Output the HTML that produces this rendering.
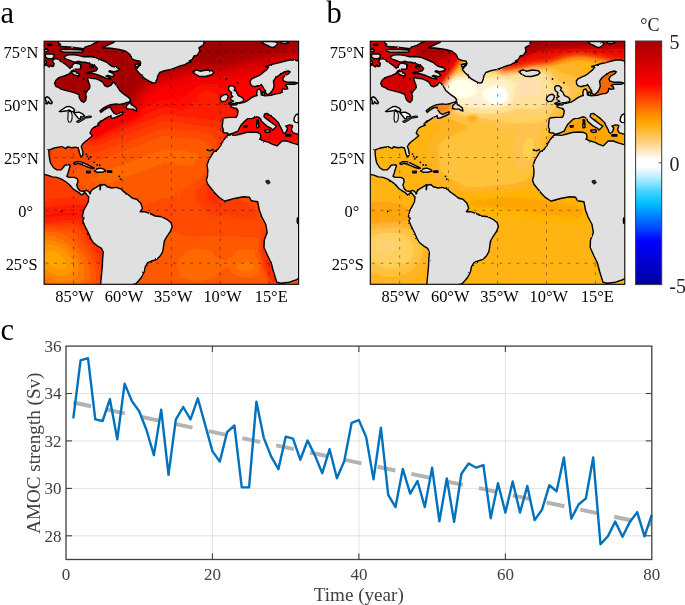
<!DOCTYPE html>
<html><head><meta charset="utf-8"><title>Figure</title>
<style>
html,body{margin:0;padding:0;background:#fff;}
svg{display:block;font-family:"Liberation Serif",serif;}
.mt text{font-size:16.4px;fill:#000;}
.pl text{font-size:30.5px;fill:#000;}
.cb text{font-size:20px;fill:#222;}
.ct text{font-size:17px;fill:#404040;}
.cl text{font-size:19.1px;fill:#404040;}
</style></head><body>
<svg width="685" height="605" viewBox="0 0 685 605">
<defs>
<clipPath id="clipM"><rect x="44.1" y="41.2" width="254.5" height="243.1"/></clipPath>
<filter id="jag" x="-2%" y="-2%" width="104%" height="104%"><feTurbulence type="fractalNoise" baseFrequency="0.45" numOctaves="2" seed="7" result="n"/><feDisplacementMap in="SourceGraphic" in2="n" scale="1.8" xChannelSelector="R" yChannelSelector="G"/></filter>
<filter id="post" x="0" y="0" width="100%" height="100%" color-interpolation-filters="sRGB"><feComponentTransfer><feFuncR type="discrete" tableValues="0.0000 0.0345 0.0690 0.1034 0.1379 0.1724 0.2069 0.2414 0.2759 0.3103 0.3448 0.3793 0.4138 0.4483 0.4828 0.5172 0.5517 0.5862 0.6207 0.6552 0.6897 0.7241 0.7586 0.7931 0.8276 0.8621 0.8966 0.9310 0.9655 1.0000"/><feFuncG type="discrete" tableValues="0.0000 0.0588 0.1176 0.1765 0.2353 0.2941 0.3529 0.4118 0.4706 0.5294 0.5882 0.6471 0.7059 0.7647 0.8235 0.8824 0.9412 1.0000"/><feFuncB type="discrete" tableValues="0.0000 0.0769 0.1538 0.2308 0.3077 0.3846 0.4615 0.5385 0.6154 0.6923 0.7692 0.8462 0.9231 1.0000"/></feComponentTransfer></filter>
<filter id="bl1" x="-50%" y="-50%" width="200%" height="200%"><feGaussianBlur stdDeviation="0.8"/></filter>
<filter id="bl2" x="-50%" y="-50%" width="200%" height="200%"><feGaussianBlur stdDeviation="1.8"/></filter>
<filter id="bl3" x="-50%" y="-50%" width="200%" height="200%"><feGaussianBlur stdDeviation="2.4"/></filter>
<filter id="bl4" x="-50%" y="-50%" width="200%" height="200%"><feGaussianBlur stdDeviation="3"/></filter>
<filter id="bl6" x="-50%" y="-50%" width="200%" height="200%"><feGaussianBlur stdDeviation="6"/></filter>
<filter id="bl8" x="-50%" y="-50%" width="200%" height="200%"><feGaussianBlur stdDeviation="8"/></filter>
<linearGradient id="gA" gradientUnits="userSpaceOnUse" x1="164.4" y1="45.82" x2="220.44" y2="198.52"><stop offset="0.000" stop-color="#dc0000"/><stop offset="0.129" stop-color="#e40000"/><stop offset="0.200" stop-color="#ec0000"/><stop offset="0.241" stop-color="#f20000"/><stop offset="0.318" stop-color="#ff1000"/><stop offset="0.394" stop-color="#ff2a00"/><stop offset="0.453" stop-color="#ff4000"/><stop offset="0.506" stop-color="#ff5000"/><stop offset="0.559" stop-color="#ff6000"/><stop offset="0.624" stop-color="#ff6600"/><stop offset="0.706" stop-color="#ff6200"/><stop offset="0.794" stop-color="#ff5c00"/><stop offset="0.882" stop-color="#ff5400"/><stop offset="1.000" stop-color="#ff4a00"/></linearGradient>
<linearGradient id="gA2" gradientUnits="userSpaceOnUse" x1="164.40" y1="45.82" x2="146.92" y2="217.33"><stop offset="0.000" stop-color="#dc0000"/><stop offset="0.129" stop-color="#e40000"/><stop offset="0.200" stop-color="#ec0000"/><stop offset="0.241" stop-color="#f20000"/><stop offset="0.318" stop-color="#ff1000"/><stop offset="0.394" stop-color="#ff2a00"/><stop offset="0.453" stop-color="#ff4000"/><stop offset="0.506" stop-color="#ff5000"/><stop offset="0.559" stop-color="#ff6000"/><stop offset="0.624" stop-color="#ff6600"/><stop offset="0.706" stop-color="#ff6200"/><stop offset="0.794" stop-color="#ff5c00"/><stop offset="0.882" stop-color="#ff5400"/><stop offset="1.000" stop-color="#ff4a00"/></linearGradient>
<linearGradient id="gC" x1="0" y1="0" x2="0" y2="1">
<stop offset="0" stop-color="#a50000"/><stop offset="0.177" stop-color="#ff0000"/><stop offset="0.233" stop-color="#ff4000"/>
<stop offset="0.291" stop-color="#ff8000"/><stop offset="0.335" stop-color="#ffa800"/><stop offset="0.42" stop-color="#ffd488"/>
<stop offset="0.488" stop-color="#ffffff"/><stop offset="0.515" stop-color="#ffffff"/><stop offset="0.556" stop-color="#c0f0ff"/>
<stop offset="0.622" stop-color="#40d0ff"/><stop offset="0.666" stop-color="#00c0ff"/><stop offset="0.72" stop-color="#0080ff"/>
<stop offset="0.748" stop-color="#0060ff"/><stop offset="0.823" stop-color="#0000ff"/><stop offset="1" stop-color="#0000a0"/>
</linearGradient>
</defs>
<rect width="685" height="605" fill="#fff"/>
<g transform="translate(0,0)"><g clip-path="url(#clipM)"><g filter="url(#post)">
<rect x="40" y="38" width="125" height="250" fill="url(#gA)"/><rect x="164.4" y="38" width="138" height="250" fill="url(#gA2)"/>
<g filter="url(#bl6)">
 <polygon points="40,38 198,38 192,66 181,72 165,76 151,84 139,91 135,100 138,108 130,112 100,116 40,116" fill="#a20000"/>
 <polygon points="170,30 306,30 306,51 290,54 272,57 264,58.5 255,60 245,62 235,64.5 225,67 215,69.5 200,68 182,70 170,74" fill="#a00000"/>
 <ellipse cx="117" cy="107" rx="12" ry="7" fill="#b40000"/>
</g>
<g filter="url(#bl4)">
 <polygon points="88,134 100,124 112,117 126,111 138,108 140,116 128,121 116,127 104,133 94,140" fill="#ee0000"/>
</g>
<g filter="url(#bl8)">
 <ellipse cx="66" cy="152" rx="22" ry="14" fill="#ff5400"/>
 <ellipse cx="208" cy="100" rx="20" ry="14" fill="#ff2600"/>
 <ellipse cx="160" cy="250" rx="22" ry="30" fill="#ff5a00"/>
 <ellipse cx="226" cy="203" rx="42" ry="11" fill="#ff3c00" transform="rotate(18 226 203)"/>
 <polygon points="120,236 300,236 300,292 120,292" fill="#ff5c00"/>
 <ellipse cx="198" cy="266" rx="26" ry="22" fill="#ff6800"/>
 <ellipse cx="246" cy="262" rx="20" ry="18" fill="#ff6800"/>
 <polygon points="36,168 60,170 84,186 98,204 100,212 36,212" fill="#ff4200"/>
 <ellipse cx="56" cy="262" rx="40" ry="26" fill="#ff7c00" transform="rotate(35 56 262)"/>
 <polygon points="222,84 302,84 302,146 240,146 226,132 232,112" fill="#ff0600"/>
 <polygon points="236,100 226,118 218,150 210,170 204,200 214,215 222,200 228,170 232,140 240,120" fill="#ff2a00"/>
</g>
<g filter="url(#bl6)">
 <ellipse cx="56" cy="208" rx="46" ry="8" fill="#ff2c00" transform="rotate(-6 56 208)"/>
 <ellipse cx="56" cy="216" rx="46" ry="8" fill="#ff1600" transform="rotate(-6 56 216)"/>
 <polygon points="82,208 98,232 112,254 116,284 108,284 102,258 88,236 76,216" fill="#ff1c00"/>
 <ellipse cx="55" cy="260" rx="22" ry="14" fill="#ffa000" transform="rotate(35 55 260)"/>
</g>
<g filter="url(#bl3)">
 <ellipse cx="246" cy="267" rx="12" ry="7" fill="#ff7400"/>
 <polygon points="262,228 268,240 266,252 272,266 280,284 272,284 264,268 260,252 262,240" fill="#ff2a00"/>
</g>
</g><g stroke="#000" stroke-opacity="0.8" stroke-width="0.5" stroke-dasharray="2.9 5.6" stroke-dashoffset="-1.6"><line x1="73.5" x2="73.5" y1="41.2" y2="284.3"/><line x1="122.4" x2="122.4" y1="41.2" y2="284.3"/><line x1="171.4" x2="171.4" y1="41.2" y2="284.3"/><line x1="220.3" x2="220.3" y1="41.2" y2="284.3"/><line x1="269.2" x2="269.2" y1="41.2" y2="284.3"/><line y1="51.8" y2="51.8" x1="44.1" x2="298.6"/><line y1="104.6" y2="104.6" x1="44.1" x2="298.6"/><line y1="157.5" y2="157.5" x1="44.1" x2="298.6"/><line y1="210.3" y2="210.3" x1="44.1" x2="298.6"/><line y1="263.2" y2="263.2" x1="44.1" x2="298.6"/></g><path d="M44.0,66.0 L46.1,64.8 L47.7,66.0 L49.2,67.0 L50.7,65.3 L52.0,66.5 L53.7,66.0 L54.1,63.5 L52.5,61.5 L53.3,59.4 L56.5,58.6 L59.8,59.8 L60.0,60.8 L63.8,63.2 L67.6,66.0 L70.2,68.4 L71.9,66.5 L73.3,64.1 L75.2,63.0 L79.0,63.7 L81.3,65.1 L80.4,67.0 L81.1,68.4 L79.0,69.3 L75.2,69.1 L72.8,70.3 L71.4,71.2 L69.5,73.6 L65.7,75.3 L58.9,77.6 L55.9,80.2 L54.5,83.2 L55.8,86.3 L58.9,87.7 L61.6,89.4 L66.3,90.6 L71.3,91.9 L75.6,93.1 L78.7,94.6 L79.5,98.1 L81.2,100.8 L83.7,102.5 L85.7,100.6 L86.3,96.8 L85.6,93.7 L87.4,90.6 L89.4,88.8 L90.0,85.7 L88.8,82.6 L87.7,79.5 L88.2,77.4 L91.3,78.4 L96.1,78.8 L99.8,80.3 L102.7,82.2 L104.6,85.5 L107.4,86.9 L111.2,85.0 L113.1,82.2 L114.6,83.1 L116.9,86.0 L119.8,90.7 L124.8,94.9 L128.5,97.3 L130.5,99.8 L129.5,101.9 L127.3,102.4 L124.2,103.4 L119.9,104.4 L116.1,103.9 L110.5,104.7 L107.4,105.9 L103.7,107.9 L100.0,110.9 L101.0,112.4 L104.3,109.8 L107.4,107.9 L110.7,107.3 L111.4,109.6 L113.9,113.1 L116.4,114.3 L120.5,112.6 L123.1,112.0 L122.6,114.1 L118.6,116.0 L113.9,118.1 L111.4,118.3 L110.9,115.5 L106.5,117.8 L102.7,120.3 L100.5,122.2 L101.0,120.7 L97.7,124.0 L99.3,125.2 L95.0,126.7 L92.3,128.5 L90.8,131.0 L90.0,133.3 L92.5,135.8 L88.3,139.2 L85.0,141.7 L82.5,144.2 L81.2,146.8 L82.3,149.4 L82.9,152.3 L82.7,155.6 L81.1,156.7 L79.7,153.7 L78.9,150.0 L78.0,148.2 L75.7,147.2 L71.7,147.7 L67.5,146.7 L65.8,148.5 L62.5,146.8 L58.3,147.2 L54.3,148.0 L50.7,149.3 L48.7,150.0 L49.3,157.0 L50.4,162.8 L53.3,167.5 L56.8,169.9 L60.9,169.9 L63.3,167.5 L65.0,165.2 L69.1,164.6 L70.3,165.8 L69.1,169.3 L67.9,173.4 L66.8,176.3 L69.1,177.4 L74.4,177.4 L77.3,178.6 L77.9,181.5 L76.7,185.0 L77.9,188.5 L80.2,190.9 L83.7,191.5 L86.6,190.3 L89.0,192.0 L90.1,193.8 L90.7,191.5 L93.1,189.1 L96.0,187.4 L98.9,185.6 L100.3,184.6 L100.1,189.7 L100.8,185.0 L102.4,185.0 L104.7,184.5 L107.1,186.8 L111.7,188.0 L116.4,187.4 L121.1,189.1 L124.0,192.0 L127.5,194.3 L132.5,198.3 L136.7,199.2 L140.8,203.3 L142.5,208.3 L140.2,211.7 L144.3,211.7 L150.0,213.5 L155.2,216.0 L161.8,216.8 L166.8,219.3 L171.0,222.7 L172.2,226.7 L170.2,231.7 L166.8,236.7 L164.3,241.0 L163.5,246.7 L162.7,251.7 L160.2,256.0 L156.8,259.3 L151.8,261.0 L147.7,262.7 L145.2,266.8 L144.3,271.7 L141.8,276.7 L138.5,281.0 L135.2,284.3 L133.5,284.3 L133.5,288.3 L100.5,288.3 L100.5,284.3 L100.7,283.3 L101.5,275.0 L102.3,266.7 L102.7,258.3 L103.2,252.5 L101.5,248.3 L97.3,245.8 L93.2,242.5 L90.7,238.3 L88.2,232.5 L84.8,225.8 L82.7,220.8 L84.0,218.3 L82.2,216.7 L82.8,214.2 L83.8,210.0 L85.8,206.7 L88.3,201.7 L88.8,196.7 L88.4,196.7 L86.6,194.4 L84.9,192.6 L83.1,193.8 L81.4,195.0 L79.0,192.6 L76.1,190.9 L72.6,188.5 L69.7,185.0 L66.2,182.1 L61.5,179.2 L56.8,177.4 L52.2,176.9 L47.5,175.1 L44.0,174.5 L44.1,174.5 L40.1,174.5 L40.1,66.0Z M114.2,41.2 L114.0,42.3 L105.8,46.0 L102.5,47.7 L110.8,48.2 L119.2,49.5 L125.8,51.2 L130.0,54.5 L131.7,58.5 L135.0,60.3 L140.0,61.2 L140.8,63.5 L135.0,64.5 L136.7,68.7 L140.3,64.5 L136.7,66.9 L136.1,69.4 L138.6,72.5 L141.7,75.6 L144.8,78.7 L149.1,81.2 L153.5,83.1 L155.8,82.5 L157.1,78.7 L157.8,75.6 L159.7,72.5 L164.6,70.7 L170.8,69.4 L175.8,67.6 L180.8,65.7 L185.0,64.7 L186.3,63.5 L191.3,61.8 L189.0,61.0 L192.3,59.3 L194.0,56.0 L197.3,55.2 L199.8,51.0 L199.0,47.7 L203.2,45.2 L204.3,41.8 L204.3,41.2 L204.3,37.2 L114.2,37.2Z M64.3,57.5 L64.3,56.5 L67.6,55.1 L72.3,54.6 L79.0,55.6 L83.7,56.8 L89.8,56.5 L95.7,57.6 L101.5,60.0 L107.4,62.7 L109.3,64.5 L111.7,66.2 L116.9,67.5 L119.6,69.3 L116.5,71.3 L113.1,71.7 L109.7,70.6 L109.0,71.7 L112.9,73.4 L114.5,75.5 L112.4,76.7 L107.6,75.3 L106.1,76.1 L109.7,77.6 L110.7,79.1 L106.5,78.4 L101.7,76.5 L98.0,75.0 L92.3,73.1 L87.5,73.8 L86.6,72.7 L91.3,71.7 L96.1,70.8 L97.5,68.4 L95.1,66.0 L92.3,64.6 L88.5,63.2 L84.7,62.2 L81.8,62.2 L78.0,61.3 L75.2,62.2 L72.3,61.3 L68.5,59.9 L65.7,58.9Z M71.4,71.7 L75.2,71.2 L78.5,73.6 L79.4,75.7 L76.1,75.5 L73.3,74.6 L71.9,73.1Z M89.4,66.2 L93.0,66.0 L93.4,67.7 L89.8,67.9Z M60.3,49.7 L64.8,49.3 L71.5,49.5 L78.9,49.7 L83.3,50.3 L82.4,52.0 L75.6,52.3 L69.0,52.1 L63.1,52.0 L60.5,51.3Z M58.5,41.2 L58.3,42.8 L60.6,44.3 L59.0,45.3 L61.1,46.5 L69.0,47.0 L75.6,47.7 L83.9,48.7 L85.6,46.8 L90.6,45.3 L93.9,43.5 L97.2,42.0 L99.0,41.2 L99.0,37.2 L58.5,37.2Z M45.3,54.1 L49.0,53.8 L53.8,54.3 L54.1,56.8 L52.3,58.8 L48.2,58.6 L45.5,57.5Z M44.1,49.5 L46.5,49.0 L48.2,49.8 L47.8,51.3 L45.3,51.5 L44.1,51.8Z M47.5,44.0 L51.3,43.8 L51.7,45.2 L47.8,45.3Z M44.1,61.5 L46.0,60.8 L46.5,62.8 L44.8,64.3 L44.1,64.5Z M192.7,71.5 L196.5,69.8 L200.0,71.2 L206.5,70.0 L212.3,70.7 L213.8,72.7 L211.8,74.8 L205.3,76.5 L199.0,76.2 L195.3,74.2Z M126.7,105.4 L129.3,102.9 L130.5,101.7 L131.1,104.7 L133.6,106.0 L136.1,107.9 L136.7,111.0 L134.9,110.4 L133.0,109.1 L129.3,109.1 L126.2,108.5Z M261.8,42.0 L264.9,41.5 L271.9,41.5 L276.4,42.0 L277.7,44.1 L275.5,46.0 L272.9,47.7 L270.2,46.8 L267.6,45.5 L264.5,44.2 L262.4,42.9Z M279.8,41.5 L286.8,41.5 L288.5,42.9 L285.0,43.8 L281.5,43.3Z M220.6,97.2 L223.2,94.9 L226.3,94.2 L228.2,96.1 L227.5,99.2 L225.7,101.1 L221.9,101.7 L220.2,99.8Z M228.6,87.3 L229.9,85.8 L232.7,85.8 L235.3,88.0 L234.1,90.3 L236.1,91.3 L237.3,93.7 L238.3,95.7 L241.6,97.1 L243.8,99.2 L243.0,101.7 L239.8,102.4 L235.5,102.9 L232.4,103.7 L229.6,104.4 L228.6,103.4 L232.1,101.9 L233.6,101.2 L231.1,100.2 L230.4,97.7 L232.9,96.7 L231.1,95.0 L231.6,92.5 L229.9,91.3 L228.6,89.3Z M298.6,61.2 L295.5,60.3 L292.0,59.9 L288.5,60.3 L284.2,61.3 L279.8,62.6 L275.5,63.5 L272.0,64.4 L268.5,65.7 L265.4,66.5 L268.5,67.4 L266.7,69.6 L264.1,71.8 L261.5,74.0 L258.8,75.7 L255.3,77.1 L251.8,78.8 L250.1,81.0 L250.5,84.1 L251.8,85.8 L254.5,86.7 L258.0,85.8 L260.6,85.4 L261.2,84.3 L262.9,86.8 L264.1,89.3 L265.4,90.6 L265.6,93.0 L267.9,94.9 L270.3,93.0 L272.8,89.9 L274.1,86.2 L273.4,81.2 L275.9,77.5 L279.6,74.8 L283.4,72.3 L288.3,71.0 L290.2,71.9 L288.3,74.0 L284.6,76.0 L282.7,78.7 L283.6,81.0 L287.1,82.2 L294.5,82.2 L298.0,83.1 L294.5,84.3 L287.7,84.4 L284.9,85.3 L287.1,86.8 L287.7,88.9 L284.6,89.4 L282.5,88.4 L282.1,91.4 L279.9,93.4 L275.9,93.9 L271.6,95.2 L267.9,95.5 L264.8,95.7 L261.3,94.9 L260.8,91.1 L259.5,88.9 L257.3,89.9 L256.7,93.0 L257.1,95.5 L254.8,96.1 L251.7,97.7 L248.6,99.8 L244.9,102.1 L241.8,102.9 L239.3,103.5 L237.8,102.7 L236.8,104.8 L231.3,105.0 L230.6,106.7 L233.7,107.9 L236.8,108.5 L238.1,111.0 L237.5,114.7 L236.2,117.2 L229.9,117.4 L224.9,117.7 L223.1,118.6 L222.7,122.4 L222.2,126.7 L223.4,129.8 L222.7,131.7 L224.3,132.8 L227.4,133.0 L228.9,134.5 L233.6,133.0 L238.0,131.1 L239.8,127.3 L241.7,124.2 L245.4,120.5 L247.9,118.6 L252.2,118.4 L256.6,116.8 L259.0,117.4 L260.7,118.9 L261.2,120.9 L264.0,123.6 L267.1,126.1 L270.8,128.0 L272.8,130.1 L274.6,128.3 L276.7,126.1 L273.3,124.0 L269.6,121.1 L265.9,118.4 L263.9,116.4 L264.6,113.9 L267.1,113.4 L270.2,115.5 L274.6,118.9 L278.3,122.4 L279.5,125.1 L282.0,129.8 L283.0,132.5 L284.5,133.5 L286.3,131.7 L287.6,128.0 L285.7,126.1 L289.4,124.9 L292.5,125.5 L292.2,127.3 L291.3,129.8 L293.2,132.9 L297.9,134.2 L298.6,134.2 L298.6,144.7 L297.9,144.7 L291.9,142.8 L287.0,141.0 L282.0,141.0 L279.5,143.5 L277.0,145.9 L272.1,144.1 L268.3,142.2 L264.0,141.0 L259.7,139.1 L260.9,137.3 L260.3,134.2 L257.8,132.5 L252.2,132.0 L246.0,132.5 L239.8,134.2 L234.9,135.4 L229.9,134.8 L227.4,135.5 L224.9,138.5 L222.4,141.6 L220.6,145.9 L217.5,149.7 L215.0,151.2 L213.7,151.8 L211.2,156.0 L208.7,160.2 L207.0,165.2 L207.8,170.2 L207.5,176.0 L206.3,180.2 L207.8,184.3 L211.2,188.5 L215.3,193.5 L219.5,197.7 L224.5,201.0 L225.2,201.0 L234.3,198.5 L243.5,196.7 L249.3,197.2 L251.3,200.8 L257.7,201.7 L259.3,210.0 L261.8,216.7 L265.7,224.2 L267.2,232.5 L264.3,240.0 L264.0,247.5 L267.7,255.8 L271.3,263.3 L273.5,271.7 L276.8,282.2 L281.0,283.3 L289.3,282.2 L296.0,280.0 L298.7,278.3 L298.6,278.5 L301.6,278.5 L301.6,82.0Z M256.9,119.6 L258.4,119.9 L258.5,123.0 L257.1,123.1Z M256.6,123.7 L258.7,123.6 L258.8,127.6 L256.8,127.7Z M264.6,130.2 L269.6,129.6 L270.3,131.7 L267.1,132.5 L264.9,131.7Z M285.7,134.8 L290.7,134.8 L290.7,136.0 L285.7,136.0Z M244.0,125.8 L246.8,125.7 L246.8,127.1 L244.2,127.2Z M261.7,92.5 L264.1,92.0 L264.4,95.0 L262.1,95.2Z M73.8,163.4 L76.1,161.7 L80.2,161.7 L84.3,163.1 L88.4,165.2 L91.9,166.9 L94.2,168.1 L92.5,168.7 L89.0,167.5 L84.9,165.8 L80.8,164.0 L77.3,163.4 L74.9,164.6Z M94.5,171.0 L97.1,168.7 L100.6,168.1 L104.1,169.3 L105.9,171.0 L102.4,172.2 L98.9,172.2 L96.8,172.2Z M107.6,171.0 L111.7,171.0 L111.7,172.4 L107.6,172.4Z M86.6,171.1 L90.1,171.1 L90.1,172.7 L86.6,172.7Z" fill="#e0e0e0" stroke="#000" stroke-width="1.4" stroke-linejoin="round" filter="url(#jag)"/><path d="M59.3,111.5 L62.8,109.0 L66.3,106.8 L69.4,106.4 L72.9,108.1 L74.6,109.9 L73.8,111.6 L71.1,111.2 L69.0,109.9 L66.8,110.8 L63.7,111.2 L61.1,111.6Z M73.3,112.1 L76.0,112.5 L79.0,112.1 L82.5,113.8 L84.5,116.0 L82.5,116.9 L80.8,116.5 L80.3,118.6 L78.6,118.8 L77.3,116.9 L76.0,115.6 L74.6,113.8Z M298.4,113.7 L295.9,114.9 L294.4,117.4 L293.9,120.5 L295.4,122.4 L298.4,122.6Z" fill="#fff" stroke="#000" stroke-width="1.4" stroke-linejoin="round"/><path d="M68.1,112.1 L69.8,111.2 L71.6,112.5 L72.2,116.0 L71.8,120.0 L70.3,122.3 L68.5,122.0 L67.8,118.6 L68.1,115.1Z" fill="#ececec" stroke="#000" stroke-width="1.1" stroke-linejoin="round"/><path d="M45.3,97.6 L47.5,96.8 L49.3,98.1 L51.0,100.7 L52.3,102.4 L51.4,103.8 L49.7,103.3 L48.4,101.6 L47.5,103.8 L45.8,103.8 L46.2,101.1 L45.3,99.4Z" fill="#e0e0e0" stroke="#000" stroke-width="1.5" stroke-linejoin="round"/><path d="M76.4,121.3 L79.9,120.0 L83.4,117.9 L86.0,117.3 L85.2,118.6 L82.5,120.4 L79.0,122.3 L76.8,122.3Z M85.2,117.1 L88.7,116.0 L91.5,116.2 L91.3,117.3 L87.8,117.9 L85.6,118.1Z" fill="#555" stroke="#000" stroke-width="1.0" stroke-linejoin="round"/><path d="M265.7,180.7 L268.7,180.0 L270.3,182.7 L268.0,184.3 L266.0,182.7Z" fill="#222" stroke="#000" stroke-width="0.6"/><g fill="#000"><circle cx="86.3" cy="154.1" r="0.9"/><circle cx="87.4" cy="156.4" r="0.9"/><circle cx="88.6" cy="158.8" r="0.9"/><circle cx="90.7" cy="157.0" r="0.9"/><circle cx="94.2" cy="162.3" r="0.9"/><circle cx="97.1" cy="164.9" r="0.9"/><circle cx="99.8" cy="165.2" r="0.9"/><circle cx="119.3" cy="176.3" r="0.9"/><circle cx="120.5" cy="179.2" r="0.9"/><circle cx="100.3" cy="188.5" r="0.9"/><circle cx="61.5" cy="211.3" r="0.9"/><circle cx="226.3" cy="79.0" r="0.9"/><circle cx="237.7" cy="82.7" r="0.9"/><circle cx="207.3" cy="150.0" r="0.9"/><circle cx="208.7" cy="150.3" r="0.9"/><circle cx="210.2" cy="150.7" r="0.9"/><circle cx="211.7" cy="150.3" r="0.9"/><circle cx="213.0" cy="149.7" r="0.9"/><circle cx="77.5" cy="77.7" r="0.9"/><circle cx="83.7" cy="79.0" r="0.9"/><circle cx="84.4" cy="91.4" r="0.9"/><ellipse cx="297.7" cy="220.6" rx="1.2" ry="3.6"/></g></g><rect x="44.1" y="41.2" width="254.5" height="243.1" fill="none" stroke="#000" stroke-width="1.1"/><g class="mt"><text x="74.5" y="301.8" text-anchor="middle">85°W</text><text x="124.0" y="301.8" text-anchor="middle">60°W</text><text x="173.3" y="301.8" text-anchor="middle">35°W</text><text x="222.6" y="301.8" text-anchor="middle">10°W</text><text x="271.2" y="301.8" text-anchor="middle">15°E</text><text x="38.4" y="58.2" text-anchor="end">75°N</text><text x="38.9" y="111.0" text-anchor="end">50°N</text><text x="38.9" y="163.9" text-anchor="end">25°N</text><text x="33.0" y="216.7" text-anchor="end">0°</text><text x="37.7" y="269.6" text-anchor="end">25°S</text></g></g><g transform="translate(326.2,0)"><g clip-path="url(#clipM)"><g filter="url(#post)">
<rect x="40" y="38" width="262" height="250" fill="#ffb224"/>
<g filter="url(#bl8)">
 <ellipse cx="169" cy="95" rx="62" ry="25" fill="#ffd88c"/>
 <ellipse cx="193" cy="118" rx="30" ry="18" fill="#ffcc66"/>
 <ellipse cx="238" cy="90" rx="14" ry="12" fill="#ffd080"/>
 <ellipse cx="228" cy="120" rx="10" ry="10" fill="#ffc860"/>
</g>
<g filter="url(#bl6)">
 <ellipse cx="160" cy="93" rx="48" ry="16" fill="#fff0d4"/>
 <ellipse cx="207" cy="77" rx="20" ry="9" fill="#ffe2a8"/>
 <ellipse cx="204" cy="94" rx="26" ry="13" fill="#ffe0a4"/>
</g>
<g filter="url(#bl4)">
 <ellipse cx="171.4" cy="95.7" rx="11" ry="7.5" fill="#ffffff"/>
 <ellipse cx="135" cy="87" rx="13" ry="10" fill="#fff7ea"/>
</g>
<ellipse cx="171.2" cy="95.2" rx="8.5" ry="4.6" fill="#ffffff" filter="url(#bl2)"/>
<ellipse cx="172.8" cy="95.5" rx="2.6" ry="1.7" fill="#c8ecff" filter="url(#bl1)"/>
<g filter="url(#bl2)">
 <ellipse cx="146.4" cy="118.2" rx="5" ry="2.6" fill="#ffa01a"/>
</g>
<g filter="url(#bl3)">
 <polygon points="40,38 112,38 118,64 120,80 112,90 106,106 40,106" fill="#d40200"/>
 <polygon points="100,34 131,34 136,56 132,64 126,72 120,80 114,86 106,90 100,80" fill="#e40a00"/>
</g>
<g filter="url(#bl4)">
 <polygon points="90,30 131,30 130,52 122,60 104,64 90,62" fill="#b00000"/>
 <ellipse cx="116" cy="107" rx="11" ry="6" fill="#ff7a10"/>
</g>
<g filter="url(#bl4)">
 <polygon points="200.4,30 306,30 306,63 287.7,62 276.3,59 264.9,57 253.5,55.5 242.1,57 230.7,60.5 221.2,63.5 211.8,64.5 202.3,66 192.8,68.5 181.4,70 173.8,71 173.8,64.6 185.2,58.9 192.8,49.4" fill="#ea1200"/>
</g>
<g filter="url(#bl3)">
 <polygon points="202.3,30 306,30 306,47.5 280,48.4 259.2,47.5 240.2,48.4 221.2,49.4 209.9,51.3 200.4,55.1 192.8,58.9 189.9,57 194.7,49.4" fill="#a60000"/>
</g>
<g filter="url(#bl6)">
 <polygon points="112,142 150,127 200,124 218,130 210,160 202,180 172,190 142,188 114,172" fill="#ffc146"/>
 <ellipse cx="204" cy="150" rx="9" ry="18" fill="#ffca5a"/>
 <polygon points="126,196 170,186 210,191 264,200 268,226 220,223 170,216 140,214" fill="#ffa904"/>
 <ellipse cx="64" cy="250" rx="30" ry="24" fill="#ffca5c"/>
 <ellipse cx="60" cy="246" rx="14" ry="10" fill="#ffd478"/>
 <ellipse cx="56" cy="215" rx="30" ry="12" fill="#ff9e08"/>
 <polygon points="236,116 302,116 302,146 240,146 230,134" fill="#ffa510"/>
</g>
<g filter="url(#bl2)"><polygon points="264,95 266,84 272,74 282,67 300,67 300,99 264,99" fill="#f46a08"/></g>
</g><g stroke="#000" stroke-opacity="0.8" stroke-width="0.5" stroke-dasharray="2.9 5.6" stroke-dashoffset="-1.6"><line x1="73.5" x2="73.5" y1="41.2" y2="284.3"/><line x1="122.4" x2="122.4" y1="41.2" y2="284.3"/><line x1="171.4" x2="171.4" y1="41.2" y2="284.3"/><line x1="220.3" x2="220.3" y1="41.2" y2="284.3"/><line x1="269.2" x2="269.2" y1="41.2" y2="284.3"/><line y1="51.8" y2="51.8" x1="44.1" x2="298.6"/><line y1="104.6" y2="104.6" x1="44.1" x2="298.6"/><line y1="157.5" y2="157.5" x1="44.1" x2="298.6"/><line y1="210.3" y2="210.3" x1="44.1" x2="298.6"/><line y1="263.2" y2="263.2" x1="44.1" x2="298.6"/></g><path d="M44.0,66.0 L46.1,64.8 L47.7,66.0 L49.2,67.0 L50.7,65.3 L52.0,66.5 L53.7,66.0 L54.1,63.5 L52.5,61.5 L53.3,59.4 L56.5,58.6 L59.8,59.8 L60.0,60.8 L63.8,63.2 L67.6,66.0 L70.2,68.4 L71.9,66.5 L73.3,64.1 L75.2,63.0 L79.0,63.7 L81.3,65.1 L80.4,67.0 L81.1,68.4 L79.0,69.3 L75.2,69.1 L72.8,70.3 L71.4,71.2 L69.5,73.6 L65.7,75.3 L58.9,77.6 L55.9,80.2 L54.5,83.2 L55.8,86.3 L58.9,87.7 L61.6,89.4 L66.3,90.6 L71.3,91.9 L75.6,93.1 L78.7,94.6 L79.5,98.1 L81.2,100.8 L83.7,102.5 L85.7,100.6 L86.3,96.8 L85.6,93.7 L87.4,90.6 L89.4,88.8 L90.0,85.7 L88.8,82.6 L87.7,79.5 L88.2,77.4 L91.3,78.4 L96.1,78.8 L99.8,80.3 L102.7,82.2 L104.6,85.5 L107.4,86.9 L111.2,85.0 L113.1,82.2 L114.6,83.1 L116.9,86.0 L119.8,90.7 L124.8,94.9 L128.5,97.3 L130.5,99.8 L129.5,101.9 L127.3,102.4 L124.2,103.4 L119.9,104.4 L116.1,103.9 L110.5,104.7 L107.4,105.9 L103.7,107.9 L100.0,110.9 L101.0,112.4 L104.3,109.8 L107.4,107.9 L110.7,107.3 L111.4,109.6 L113.9,113.1 L116.4,114.3 L120.5,112.6 L123.1,112.0 L122.6,114.1 L118.6,116.0 L113.9,118.1 L111.4,118.3 L110.9,115.5 L106.5,117.8 L102.7,120.3 L100.5,122.2 L101.0,120.7 L97.7,124.0 L99.3,125.2 L95.0,126.7 L92.3,128.5 L90.8,131.0 L90.0,133.3 L92.5,135.8 L88.3,139.2 L85.0,141.7 L82.5,144.2 L81.2,146.8 L82.3,149.4 L82.9,152.3 L82.7,155.6 L81.1,156.7 L79.7,153.7 L78.9,150.0 L78.0,148.2 L75.7,147.2 L71.7,147.7 L67.5,146.7 L65.8,148.5 L62.5,146.8 L58.3,147.2 L54.3,148.0 L50.7,149.3 L48.7,150.0 L49.3,157.0 L50.4,162.8 L53.3,167.5 L56.8,169.9 L60.9,169.9 L63.3,167.5 L65.0,165.2 L69.1,164.6 L70.3,165.8 L69.1,169.3 L67.9,173.4 L66.8,176.3 L69.1,177.4 L74.4,177.4 L77.3,178.6 L77.9,181.5 L76.7,185.0 L77.9,188.5 L80.2,190.9 L83.7,191.5 L86.6,190.3 L89.0,192.0 L90.1,193.8 L90.7,191.5 L93.1,189.1 L96.0,187.4 L98.9,185.6 L100.3,184.6 L100.1,189.7 L100.8,185.0 L102.4,185.0 L104.7,184.5 L107.1,186.8 L111.7,188.0 L116.4,187.4 L121.1,189.1 L124.0,192.0 L127.5,194.3 L132.5,198.3 L136.7,199.2 L140.8,203.3 L142.5,208.3 L140.2,211.7 L144.3,211.7 L150.0,213.5 L155.2,216.0 L161.8,216.8 L166.8,219.3 L171.0,222.7 L172.2,226.7 L170.2,231.7 L166.8,236.7 L164.3,241.0 L163.5,246.7 L162.7,251.7 L160.2,256.0 L156.8,259.3 L151.8,261.0 L147.7,262.7 L145.2,266.8 L144.3,271.7 L141.8,276.7 L138.5,281.0 L135.2,284.3 L133.5,284.3 L133.5,288.3 L100.5,288.3 L100.5,284.3 L100.7,283.3 L101.5,275.0 L102.3,266.7 L102.7,258.3 L103.2,252.5 L101.5,248.3 L97.3,245.8 L93.2,242.5 L90.7,238.3 L88.2,232.5 L84.8,225.8 L82.7,220.8 L84.0,218.3 L82.2,216.7 L82.8,214.2 L83.8,210.0 L85.8,206.7 L88.3,201.7 L88.8,196.7 L88.4,196.7 L86.6,194.4 L84.9,192.6 L83.1,193.8 L81.4,195.0 L79.0,192.6 L76.1,190.9 L72.6,188.5 L69.7,185.0 L66.2,182.1 L61.5,179.2 L56.8,177.4 L52.2,176.9 L47.5,175.1 L44.0,174.5 L44.1,174.5 L40.1,174.5 L40.1,66.0Z M114.2,41.2 L114.0,42.3 L105.8,46.0 L102.5,47.7 L110.8,48.2 L119.2,49.5 L125.8,51.2 L130.0,54.5 L131.7,58.5 L135.0,60.3 L140.0,61.2 L140.8,63.5 L135.0,64.5 L136.7,68.7 L140.3,64.5 L136.7,66.9 L136.1,69.4 L138.6,72.5 L141.7,75.6 L144.8,78.7 L149.1,81.2 L153.5,83.1 L155.8,82.5 L157.1,78.7 L157.8,75.6 L159.7,72.5 L164.6,70.7 L170.8,69.4 L175.8,67.6 L180.8,65.7 L185.0,64.7 L186.3,63.5 L191.3,61.8 L189.0,61.0 L192.3,59.3 L194.0,56.0 L197.3,55.2 L199.8,51.0 L199.0,47.7 L203.2,45.2 L204.3,41.8 L204.3,41.2 L204.3,37.2 L114.2,37.2Z M64.3,57.5 L64.3,56.5 L67.6,55.1 L72.3,54.6 L79.0,55.6 L83.7,56.8 L89.8,56.5 L95.7,57.6 L101.5,60.0 L107.4,62.7 L109.3,64.5 L111.7,66.2 L116.9,67.5 L119.6,69.3 L116.5,71.3 L113.1,71.7 L109.7,70.6 L109.0,71.7 L112.9,73.4 L114.5,75.5 L112.4,76.7 L107.6,75.3 L106.1,76.1 L109.7,77.6 L110.7,79.1 L106.5,78.4 L101.7,76.5 L98.0,75.0 L92.3,73.1 L87.5,73.8 L86.6,72.7 L91.3,71.7 L96.1,70.8 L97.5,68.4 L95.1,66.0 L92.3,64.6 L88.5,63.2 L84.7,62.2 L81.8,62.2 L78.0,61.3 L75.2,62.2 L72.3,61.3 L68.5,59.9 L65.7,58.9Z M71.4,71.7 L75.2,71.2 L78.5,73.6 L79.4,75.7 L76.1,75.5 L73.3,74.6 L71.9,73.1Z M89.4,66.2 L93.0,66.0 L93.4,67.7 L89.8,67.9Z M60.3,49.7 L64.8,49.3 L71.5,49.5 L78.9,49.7 L83.3,50.3 L82.4,52.0 L75.6,52.3 L69.0,52.1 L63.1,52.0 L60.5,51.3Z M58.5,41.2 L58.3,42.8 L60.6,44.3 L59.0,45.3 L61.1,46.5 L69.0,47.0 L75.6,47.7 L83.9,48.7 L85.6,46.8 L90.6,45.3 L93.9,43.5 L97.2,42.0 L99.0,41.2 L99.0,37.2 L58.5,37.2Z M45.3,54.1 L49.0,53.8 L53.8,54.3 L54.1,56.8 L52.3,58.8 L48.2,58.6 L45.5,57.5Z M44.1,49.5 L46.5,49.0 L48.2,49.8 L47.8,51.3 L45.3,51.5 L44.1,51.8Z M47.5,44.0 L51.3,43.8 L51.7,45.2 L47.8,45.3Z M44.1,61.5 L46.0,60.8 L46.5,62.8 L44.8,64.3 L44.1,64.5Z M192.7,71.5 L196.5,69.8 L200.0,71.2 L206.5,70.0 L212.3,70.7 L213.8,72.7 L211.8,74.8 L205.3,76.5 L199.0,76.2 L195.3,74.2Z M126.7,105.4 L129.3,102.9 L130.5,101.7 L131.1,104.7 L133.6,106.0 L136.1,107.9 L136.7,111.0 L134.9,110.4 L133.0,109.1 L129.3,109.1 L126.2,108.5Z M261.8,42.0 L264.9,41.5 L271.9,41.5 L276.4,42.0 L277.7,44.1 L275.5,46.0 L272.9,47.7 L270.2,46.8 L267.6,45.5 L264.5,44.2 L262.4,42.9Z M279.8,41.5 L286.8,41.5 L288.5,42.9 L285.0,43.8 L281.5,43.3Z M220.6,97.2 L223.2,94.9 L226.3,94.2 L228.2,96.1 L227.5,99.2 L225.7,101.1 L221.9,101.7 L220.2,99.8Z M228.6,87.3 L229.9,85.8 L232.7,85.8 L235.3,88.0 L234.1,90.3 L236.1,91.3 L237.3,93.7 L238.3,95.7 L241.6,97.1 L243.8,99.2 L243.0,101.7 L239.8,102.4 L235.5,102.9 L232.4,103.7 L229.6,104.4 L228.6,103.4 L232.1,101.9 L233.6,101.2 L231.1,100.2 L230.4,97.7 L232.9,96.7 L231.1,95.0 L231.6,92.5 L229.9,91.3 L228.6,89.3Z M298.6,61.2 L295.5,60.3 L292.0,59.9 L288.5,60.3 L284.2,61.3 L279.8,62.6 L275.5,63.5 L272.0,64.4 L268.5,65.7 L265.4,66.5 L268.5,67.4 L266.7,69.6 L264.1,71.8 L261.5,74.0 L258.8,75.7 L255.3,77.1 L251.8,78.8 L250.1,81.0 L250.5,84.1 L251.8,85.8 L254.5,86.7 L258.0,85.8 L260.6,85.4 L261.2,84.3 L262.9,86.8 L264.1,89.3 L265.4,90.6 L265.6,93.0 L267.9,94.9 L270.3,93.0 L272.8,89.9 L274.1,86.2 L273.4,81.2 L275.9,77.5 L279.6,74.8 L283.4,72.3 L288.3,71.0 L290.2,71.9 L288.3,74.0 L284.6,76.0 L282.7,78.7 L283.6,81.0 L287.1,82.2 L294.5,82.2 L298.0,83.1 L294.5,84.3 L287.7,84.4 L284.9,85.3 L287.1,86.8 L287.7,88.9 L284.6,89.4 L282.5,88.4 L282.1,91.4 L279.9,93.4 L275.9,93.9 L271.6,95.2 L267.9,95.5 L264.8,95.7 L261.3,94.9 L260.8,91.1 L259.5,88.9 L257.3,89.9 L256.7,93.0 L257.1,95.5 L254.8,96.1 L251.7,97.7 L248.6,99.8 L244.9,102.1 L241.8,102.9 L239.3,103.5 L237.8,102.7 L236.8,104.8 L231.3,105.0 L230.6,106.7 L233.7,107.9 L236.8,108.5 L238.1,111.0 L237.5,114.7 L236.2,117.2 L229.9,117.4 L224.9,117.7 L223.1,118.6 L222.7,122.4 L222.2,126.7 L223.4,129.8 L222.7,131.7 L224.3,132.8 L227.4,133.0 L228.9,134.5 L233.6,133.0 L238.0,131.1 L239.8,127.3 L241.7,124.2 L245.4,120.5 L247.9,118.6 L252.2,118.4 L256.6,116.8 L259.0,117.4 L260.7,118.9 L261.2,120.9 L264.0,123.6 L267.1,126.1 L270.8,128.0 L272.8,130.1 L274.6,128.3 L276.7,126.1 L273.3,124.0 L269.6,121.1 L265.9,118.4 L263.9,116.4 L264.6,113.9 L267.1,113.4 L270.2,115.5 L274.6,118.9 L278.3,122.4 L279.5,125.1 L282.0,129.8 L283.0,132.5 L284.5,133.5 L286.3,131.7 L287.6,128.0 L285.7,126.1 L289.4,124.9 L292.5,125.5 L292.2,127.3 L291.3,129.8 L293.2,132.9 L297.9,134.2 L298.6,134.2 L298.6,144.7 L297.9,144.7 L291.9,142.8 L287.0,141.0 L282.0,141.0 L279.5,143.5 L277.0,145.9 L272.1,144.1 L268.3,142.2 L264.0,141.0 L259.7,139.1 L260.9,137.3 L260.3,134.2 L257.8,132.5 L252.2,132.0 L246.0,132.5 L239.8,134.2 L234.9,135.4 L229.9,134.8 L227.4,135.5 L224.9,138.5 L222.4,141.6 L220.6,145.9 L217.5,149.7 L215.0,151.2 L213.7,151.8 L211.2,156.0 L208.7,160.2 L207.0,165.2 L207.8,170.2 L207.5,176.0 L206.3,180.2 L207.8,184.3 L211.2,188.5 L215.3,193.5 L219.5,197.7 L224.5,201.0 L225.2,201.0 L234.3,198.5 L243.5,196.7 L249.3,197.2 L251.3,200.8 L257.7,201.7 L259.3,210.0 L261.8,216.7 L265.7,224.2 L267.2,232.5 L264.3,240.0 L264.0,247.5 L267.7,255.8 L271.3,263.3 L273.5,271.7 L276.8,282.2 L281.0,283.3 L289.3,282.2 L296.0,280.0 L298.7,278.3 L298.6,278.5 L301.6,278.5 L301.6,82.0Z M256.9,119.6 L258.4,119.9 L258.5,123.0 L257.1,123.1Z M256.6,123.7 L258.7,123.6 L258.8,127.6 L256.8,127.7Z M264.6,130.2 L269.6,129.6 L270.3,131.7 L267.1,132.5 L264.9,131.7Z M285.7,134.8 L290.7,134.8 L290.7,136.0 L285.7,136.0Z M244.0,125.8 L246.8,125.7 L246.8,127.1 L244.2,127.2Z M261.7,92.5 L264.1,92.0 L264.4,95.0 L262.1,95.2Z M73.8,163.4 L76.1,161.7 L80.2,161.7 L84.3,163.1 L88.4,165.2 L91.9,166.9 L94.2,168.1 L92.5,168.7 L89.0,167.5 L84.9,165.8 L80.8,164.0 L77.3,163.4 L74.9,164.6Z M94.5,171.0 L97.1,168.7 L100.6,168.1 L104.1,169.3 L105.9,171.0 L102.4,172.2 L98.9,172.2 L96.8,172.2Z M107.6,171.0 L111.7,171.0 L111.7,172.4 L107.6,172.4Z M86.6,171.1 L90.1,171.1 L90.1,172.7 L86.6,172.7Z" fill="#e0e0e0" stroke="#000" stroke-width="1.4" stroke-linejoin="round" filter="url(#jag)"/><path d="M59.3,111.5 L62.8,109.0 L66.3,106.8 L69.4,106.4 L72.9,108.1 L74.6,109.9 L73.8,111.6 L71.1,111.2 L69.0,109.9 L66.8,110.8 L63.7,111.2 L61.1,111.6Z M73.3,112.1 L76.0,112.5 L79.0,112.1 L82.5,113.8 L84.5,116.0 L82.5,116.9 L80.8,116.5 L80.3,118.6 L78.6,118.8 L77.3,116.9 L76.0,115.6 L74.6,113.8Z M298.4,113.7 L295.9,114.9 L294.4,117.4 L293.9,120.5 L295.4,122.4 L298.4,122.6Z" fill="#fff" stroke="#000" stroke-width="1.4" stroke-linejoin="round"/><path d="M68.1,112.1 L69.8,111.2 L71.6,112.5 L72.2,116.0 L71.8,120.0 L70.3,122.3 L68.5,122.0 L67.8,118.6 L68.1,115.1Z" fill="#ececec" stroke="#000" stroke-width="1.1" stroke-linejoin="round"/><path d="M45.3,97.6 L47.5,96.8 L49.3,98.1 L51.0,100.7 L52.3,102.4 L51.4,103.8 L49.7,103.3 L48.4,101.6 L47.5,103.8 L45.8,103.8 L46.2,101.1 L45.3,99.4Z" fill="#e0e0e0" stroke="#000" stroke-width="1.5" stroke-linejoin="round"/><path d="M76.4,121.3 L79.9,120.0 L83.4,117.9 L86.0,117.3 L85.2,118.6 L82.5,120.4 L79.0,122.3 L76.8,122.3Z M85.2,117.1 L88.7,116.0 L91.5,116.2 L91.3,117.3 L87.8,117.9 L85.6,118.1Z" fill="#555" stroke="#000" stroke-width="1.0" stroke-linejoin="round"/><path d="M265.7,180.7 L268.7,180.0 L270.3,182.7 L268.0,184.3 L266.0,182.7Z" fill="#222" stroke="#000" stroke-width="0.6"/><g fill="#000"><circle cx="86.3" cy="154.1" r="0.9"/><circle cx="87.4" cy="156.4" r="0.9"/><circle cx="88.6" cy="158.8" r="0.9"/><circle cx="90.7" cy="157.0" r="0.9"/><circle cx="94.2" cy="162.3" r="0.9"/><circle cx="97.1" cy="164.9" r="0.9"/><circle cx="99.8" cy="165.2" r="0.9"/><circle cx="119.3" cy="176.3" r="0.9"/><circle cx="120.5" cy="179.2" r="0.9"/><circle cx="100.3" cy="188.5" r="0.9"/><circle cx="61.5" cy="211.3" r="0.9"/><circle cx="226.3" cy="79.0" r="0.9"/><circle cx="237.7" cy="82.7" r="0.9"/><circle cx="207.3" cy="150.0" r="0.9"/><circle cx="208.7" cy="150.3" r="0.9"/><circle cx="210.2" cy="150.7" r="0.9"/><circle cx="211.7" cy="150.3" r="0.9"/><circle cx="213.0" cy="149.7" r="0.9"/><circle cx="77.5" cy="77.7" r="0.9"/><circle cx="83.7" cy="79.0" r="0.9"/><circle cx="84.4" cy="91.4" r="0.9"/><ellipse cx="297.7" cy="220.6" rx="1.2" ry="3.6"/></g></g><rect x="44.1" y="41.2" width="254.5" height="243.1" fill="none" stroke="#000" stroke-width="1.1"/><g class="mt"><text x="74.5" y="301.8" text-anchor="middle">85°W</text><text x="124.0" y="301.8" text-anchor="middle">60°W</text><text x="173.3" y="301.8" text-anchor="middle">35°W</text><text x="222.6" y="301.8" text-anchor="middle">10°W</text><text x="271.2" y="301.8" text-anchor="middle">15°E</text><text x="38.4" y="58.2" text-anchor="end">75°N</text><text x="38.9" y="111.0" text-anchor="end">50°N</text><text x="38.9" y="163.9" text-anchor="end">25°N</text><text x="33.0" y="216.7" text-anchor="end">0°</text><text x="37.7" y="269.6" text-anchor="end">25°S</text></g></g><g class="pl"><text x="0.4" y="23.2">a</text><text x="326.6" y="23.2">b</text><text x="0.4" y="340.0">c</text></g><rect x="635.6" y="41.0" width="26.1" height="243.6" fill="url(#gC)" stroke="#3a3a3a" stroke-width="1"/><line x1="658.4" x2="661.7" y1="162.8" y2="162.8" stroke="#333" stroke-width="0.8"/><g class="cb"><text x="640.2" y="30.6" style="font-size:18px">°C</text><text x="669.6" y="48.8">5</text><text x="669.6" y="170.6">0</text><text x="669.3" y="293.0">-5</text></g><line x1="212.4" x2="212.4" y1="346.1" y2="559.5" stroke="#e2e2e2" stroke-width="1"/><line x1="358.9" x2="358.9" y1="346.1" y2="559.5" stroke="#e2e2e2" stroke-width="1"/><line x1="505.4" x2="505.4" y1="346.1" y2="559.5" stroke="#e2e2e2" stroke-width="1"/><line y1="535.8" y2="535.8" x1="66.0" x2="651.8" stroke="#e2e2e2" stroke-width="1"/><line y1="488.4" y2="488.4" x1="66.0" x2="651.8" stroke="#e2e2e2" stroke-width="1"/><line y1="440.9" y2="440.9" x1="66.0" x2="651.8" stroke="#e2e2e2" stroke-width="1"/><line y1="393.5" y2="393.5" x1="66.0" x2="651.8" stroke="#e2e2e2" stroke-width="1"/><line x1="73.3" y1="402.5" x2="651.8" y2="524.7" stroke="#b3b3b3" stroke-width="3.9" stroke-dasharray="18.2 16.35"/><polyline points="73.3,418.4 80.6,360.3 88.0,358.2 95.3,419.4 102.6,421.0 109.9,399.2 117.3,439.3 124.6,383.8 131.9,401.1 139.2,411.3 146.5,430.0 153.9,455.2 161.2,409.6 168.5,474.9 175.8,419.6 183.2,407.0 190.5,419.4 197.8,398.3 205.1,424.6 212.4,451.1 219.8,461.6 227.1,432.2 234.4,425.5 241.7,487.2 249.1,487.4 256.4,401.6 263.7,437.6 271.0,456.1 278.4,469.2 285.7,436.7 293.0,438.6 300.3,459.7 307.6,440.5 315.0,455.6 322.3,473.2 329.6,449.2 336.9,478.2 344.3,461.1 351.6,422.9 358.9,420.1 366.2,437.2 373.5,479.4 380.9,427.7 388.2,494.8 395.5,507.1 402.8,468.9 410.2,493.6 417.5,481.0 424.8,507.1 432.1,467.7 439.4,521.3 446.8,478.4 454.1,521.8 461.4,473.7 468.7,463.5 476.1,467.7 483.4,465.1 490.7,518.2 498.0,483.2 505.4,512.6 512.7,481.5 520.0,512.6 527.3,486.0 534.6,520.1 542.0,509.7 549.3,485.3 556.6,491.2 563.9,457.5 571.3,518.7 578.6,504.5 585.9,498.3 593.2,457.5 600.5,544.3 607.9,536.3 615.2,521.6 622.5,536.7 629.8,522.0 637.2,512.1 644.5,536.3 651.8,514.9" fill="none" stroke="#0072bd" stroke-width="2.4" stroke-linejoin="round"/><rect x="66.0" y="346.1" width="585.8" height="213.4" fill="none" stroke="#404040" stroke-width="1.3"/><g stroke="#404040" stroke-width="1.1"><line x1="212.4" x2="212.4" y1="559.5" y2="553.5"/><line x1="212.4" x2="212.4" y1="346.1" y2="352.1"/><line x1="358.9" x2="358.9" y1="559.5" y2="553.5"/><line x1="358.9" x2="358.9" y1="346.1" y2="352.1"/><line x1="505.4" x2="505.4" y1="559.5" y2="553.5"/><line x1="505.4" x2="505.4" y1="346.1" y2="352.1"/><line y1="535.8" y2="535.8" x1="66.0" x2="72.0"/><line y1="535.8" y2="535.8" x1="651.8" x2="645.8"/><line y1="488.4" y2="488.4" x1="66.0" x2="72.0"/><line y1="488.4" y2="488.4" x1="651.8" x2="645.8"/><line y1="440.9" y2="440.9" x1="66.0" x2="72.0"/><line y1="440.9" y2="440.9" x1="651.8" x2="645.8"/><line y1="393.5" y2="393.5" x1="66.0" x2="72.0"/><line y1="393.5" y2="393.5" x1="651.8" x2="645.8"/></g><g class="ct"><text x="66.0" y="580.4" text-anchor="middle">0</text><text x="212.4" y="580.4" text-anchor="middle">20</text><text x="358.9" y="580.4" text-anchor="middle">40</text><text x="505.4" y="580.4" text-anchor="middle">60</text><text x="651.8" y="580.4" text-anchor="middle">80</text><text x="61.6" y="541.6" text-anchor="end">28</text><text x="61.6" y="494.2" text-anchor="end">30</text><text x="61.6" y="446.7" text-anchor="end">32</text><text x="61.6" y="399.3" text-anchor="end">34</text><text x="61.6" y="351.9" text-anchor="end">36</text></g><g class="cl"><text x="358.8" y="600.6" text-anchor="middle">Time (year)</text><text transform="translate(39.6,453.2) rotate(-90)" text-anchor="middle">AMOC strength (Sv)</text></g></svg>
</body></html>
